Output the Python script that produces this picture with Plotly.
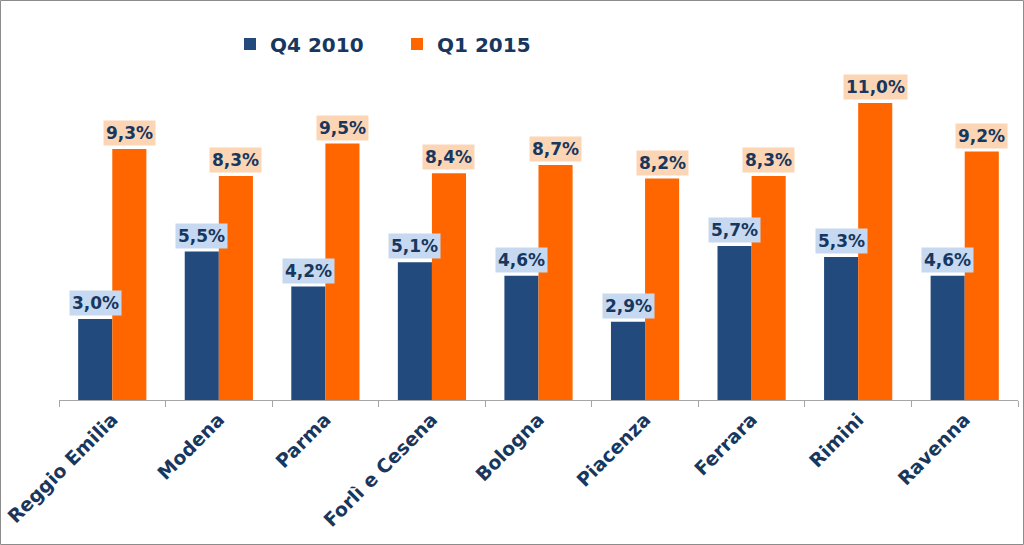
import plotly.graph_objects as go

categories = ["Reggio Emilia", "Modena", "Parma", "Forlì e Cesena", "Bologna",
              "Piacenza", "Ferrara", "Rimini", "Ravenna"]
q4_2010 = [3.0, 5.5, 4.2, 5.1, 4.6, 2.9, 5.7, 5.3, 4.6]
q1_2015 = [9.3, 8.3, 9.5, 8.4, 8.7, 8.2, 8.3, 11.0, 9.2]
series_names = ["Q4 2010", "Q1 2015"]

BLUE = "#234a7d"
ORANGE = "#ff6600"
NAVY = "#17375e"
BLUE_BOX = "#c6d9f0"
ORANGE_BOX = "#fcd5b5"
FONT = "Verdana, DejaVu Sans, sans-serif"

W, H = 1024, 545
ML, MR, MT, MB = 59, 6, 62, 145
PW, PH = W - ML - MR, H - MT - MB

fig = go.Figure()
fig.add_trace(go.Bar(x=categories, y=q4_2010, name=series_names[0], marker_color=BLUE,
                     marker_line_width=0))
fig.add_trace(go.Bar(x=categories, y=q1_2015, name=series_names[1], marker_color=ORANGE,
                     marker_line_width=0))

def fmt(v):
    return f"{v:.1f}".replace(".", ",") + "%"

bar_px = PW / len(categories) * 0.32
annotations = []
for vals, shift, bg in [(q4_2010, -bar_px / 2, BLUE_BOX), (q1_2015, bar_px / 2, ORANGE_BOX)]:
    for c, v in zip(categories, vals):
        annotations.append(dict(
            x=c, y=v, xref="x", yref="y", text=f"<b>{fmt(v)}</b>", showarrow=False,
            xshift=shift, yshift=3, yanchor="bottom", xanchor="center",
            bgcolor=bg, borderpad=2,
            font=dict(family=FONT, size=17, color=NAVY)))

fig.update_layout(
    width=W, height=H,
    margin=dict(l=ML, r=MR, t=MT, b=MB, autoexpand=False),
    paper_bgcolor="white", plot_bgcolor="white",
    barmode="group", bargap=0.36, bargroupgap=0,
    font=dict(family=FONT, color=NAVY),
    showlegend=True,
    legend=dict(orientation="h", x=(230 - ML) / PW, y=1.0 + 18 / PH, xanchor="left",
                yanchor="middle",
                font=dict(family=FONT, size=20, color=NAVY, weight="bold"),
                entrywidth=122, entrywidthmode="pixels", traceorder="normal",
                bgcolor="rgba(0,0,0,0)"),
    xaxis=dict(type="category", tickangle=-45, tickson="boundaries", ticks="outside",
               ticklen=6, tickcolor="#a6a6a6", showline=True, linecolor="#a6a6a6",
               linewidth=1, showgrid=False, zeroline=False, automargin=False,
               tickfont=dict(family=FONT, size=19, color=NAVY, weight="bold")),
    yaxis=dict(range=[0, PH / 27.0], visible=False, showgrid=False, zeroline=False,
               automargin=False),
    annotations=annotations,
    shapes=[dict(type="rect", xref="paper", yref="paper",
                 x0=(-ML + 0.5) / PW, x1=(W - ML - 0.5) / PW,
                 y0=(-MB + 0.5) / PH, y1=(MT + PH - 0.5) / PH,
                 line=dict(color="#8c8c8c", width=1), fillcolor="rgba(0,0,0,0)",
                 layer="below")],
)

fig.write_html("out.html", config={"displayModeBar": False},
               post_script="document.body.style.margin='0';document.body.style.overflow='hidden';")
